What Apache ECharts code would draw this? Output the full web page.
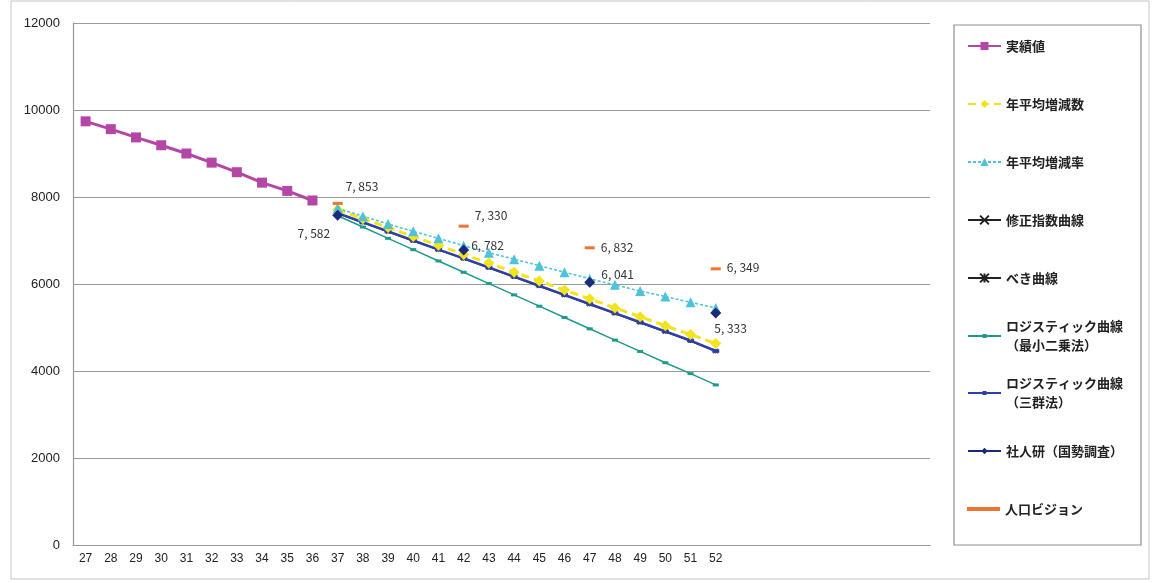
<!DOCTYPE html>
<html>
<head>
<meta charset="utf-8">
<script src="https://cdn.jsdelivr.net/npm/echarts@6/dist/echarts.min.js"></script>
<style>
  html, body { margin: 0; padding: 0; background: #fff; }
  #chart { width: 1153px; height: 582px; }
</style>
</head>
<body>
<div id="chart"></div>
<script>
// Fiscal-year slots on the horizontal axis (labels shown up to 52)
const years = ['27','28','29','30','31','32','33','34','35','36','37','38','39','40','41','42','43','44',
               '45','46','47','48','49','50','51','52','53','54','55','56','57','58','59','60'];
const lastLabelledYear = 52;
const yTicks = [0, 2000, 4000, 6000, 8000, 10000, 12000];

// Recorded population, years 27–36
const actual = [9740, 9560, 9370, 9190, 9000, 8790, 8570, 8330, 8140, 7920];

// Projections, years 37–52
const avgChangeCount = [7710, 7500, 7300, 7090, 6890, 6680, 6480, 6270, 6070, 5860, 5660, 5450, 5250, 5040, 4840, 4630];
const avgChangeRate  = [7740, 7560, 7380, 7210, 7050, 6880, 6720, 6570, 6420, 6270, 6120, 5980, 5840, 5710, 5580, 5450];
const modExponential = [7630, 7420, 7210, 7000, 6790, 6590, 6380, 6170, 5960, 5750, 5540, 5330, 5120, 4910, 4700, 4470];
const powerCurve     = [7620, 7410, 7200, 6990, 6790, 6580, 6370, 6160, 5950, 5740, 5530, 5320, 5110, 4900, 4690, 4450];
const logisticLSQ    = [7570, 7310, 7050, 6790, 6530, 6270, 6010, 5750, 5490, 5230, 4970, 4710, 4450, 4190, 3940, 3680];
const logisticThree  = [7630, 7420, 7210, 7000, 6790, 6590, 6380, 6170, 5960, 5750, 5540, 5330, 5120, 4910, 4700, 4460];
const ipss           = [7582, null, null, null, null, 6782, null, null, null, null, 6041, null, null, null, null, 5333];
const vision         = [7853, null, null, null, null, 7330, null, null, null, null, 6832, null, null, null, null, 6349];

const projStart = actual.length; // index of year 37

// Label placement for the annotated points (position, offset)
const ipssLabelPos   = [['left', [3, 18]], ['right', [-3, -5]], ['right', [1, -8]], ['right', [-12, 15]]];
const visionLabelPos = [['right', [-2, -17]], ['right', [1, -11]], ['right', [1, 0]], ['right', [1, -1]]];

const fmt = v => v.toLocaleString('en-US').replace(',', ', ');
const padActual = arr => arr.concat(new Array(years.length - arr.length).fill(null));
const padProj = arr => new Array(projStart).fill(null).concat(arr)
                         .concat(new Array(years.length - projStart - arr.length).fill(null));

function labelled(arr, placement) {
  let k = 0;
  return padProj(arr).map(v => {
    if (v === null) return null;
    const [pos, off] = placement[k++];
    return { value: v, label: { show: true, position: pos, offset: off, distance: 5 } };
  });
}

const labelFont = { fontFamily: 'Noto Sans CJK JP', fontSize: 12, color: '#333' };
const crossPath = 'path://M0,0L10,10M10,0L0,10';
const starPath = 'path://M0,0L10,10M10,0L0,10M5,0L5,10';

const series = [
  { name: '実績値', data: padActual(actual), color: '#B446A6', z: 3,
    lineStyle: { width: 3 }, symbol: 'rect', symbolSize: 10 },
  { name: '年平均増減数', data: padProj(avgChangeCount), color: '#F2E41C', z: 3,
    lineStyle: { width: 3, type: [8, 5] }, symbol: 'diamond', symbolSize: 11 },
  { name: '年平均増減率', data: padProj(avgChangeRate), color: '#4DC2DB', z: 3,
    lineStyle: { width: 1.5, type: [3, 2] }, symbol: 'triangle', symbolSize: 10 },
  { name: '修正指数曲線', data: padProj(modExponential), color: '#222', z: 1,
    lineStyle: { width: 1 }, symbol: crossPath, symbolSize: 4,
    itemStyle: { borderColor: '#222', borderWidth: 1 } },
  { name: 'べき曲線', data: padProj(powerCurve), color: '#222', z: 1,
    lineStyle: { width: 1.5 }, symbol: starPath, symbolSize: 4,
    itemStyle: { borderColor: '#222', borderWidth: 1 } },
  { name: 'ロジスティック曲線\n（最小二乗法）', data: padProj(logisticLSQ), color: '#1E9A8C', z: 3,
    lineStyle: { width: 1.5 }, symbol: 'rect', symbolSize: [6, 3] },
  { name: 'ロジスティック曲線\n（三群法）', data: padProj(logisticThree), color: '#4455C8', z: 2,
    lineStyle: { width: 2.5 }, symbol: 'rect', symbolSize: [7, 3.5], itemStyle: { color: '#2F3FA8' } },
  { name: '社人研（国勢調査）', data: labelled(ipss, ipssLabelPos), color: '#1C2A7A', z: 4,
    lineStyle: { width: 1.5 }, symbol: 'diamond', symbolSize: 11,
    label: Object.assign({ formatter: p => fmt(p.value) }, labelFont) },
  { name: '人口ビジョン', data: labelled(vision, visionLabelPos), color: '#EE7433', z: 4,
    lineStyle: { width: 3 }, symbol: 'rect', symbolSize: [10, 3],
    label: Object.assign({ formatter: p => fmt(p.value) }, labelFont) }
].map(s => Object.assign({ type: 'line', showAllSymbol: true, connectNulls: false }, s));

// One legend block per entry so the rows sit on an even pitch
const legendRows = [46, 104, 162, 220, 278, 336, 393, 451, 509];
const legendIconHeight = [10, 10, 10, 11, 11, 5, 5, 8, 4];
const legendText = { fontFamily: 'Noto Sans CJK JP', fontSize: 13, fontWeight: 'bold', color: '#222', lineHeight: 19 };
const legends = series.map((s, i) => {
  const twoLine = s.name.indexOf('\n') >= 0;
  const isVision = i === series.length - 1;
  return {
    data: [isVision ? { name: s.name, icon: 'rect' } : s.name],
    orient: 'vertical', left: 967,
    top: legendRows[i] - (twoLine ? 28.5 : 9.5),
    padding: 0, itemWidth: 33, itemHeight: legendIconHeight[i], selectedMode: false,
    textStyle: Object.assign({ padding: twoLine ? [19, 0, 0, 0] : 0 }, legendText)
  };
});

const chart = echarts.init(document.getElementById('chart'));
chart.setOption({
  animation: false,
  backgroundColor: '#fff',
  grid: { left: 73, right: 223, top: 23, bottom: 37 },
  legend: legends,
  graphic: [
    { type: 'rect', shape: { x: 11, y: 1, width: 1138, height: 578 },
      style: { fill: 'none', stroke: '#c4c4c4', lineWidth: 1 }, silent: true },
    { type: 'rect', shape: { x: 954, y: 25, width: 187, height: 520 },
      style: { fill: 'none', stroke: '#8a9099', lineWidth: 1.2 }, silent: true }
  ],
  xAxis: {
    type: 'category', data: years, boundaryGap: true,
    axisLine: { lineStyle: { color: '#999', width: 1.2 } },
    axisTick: { inside: true, length: 4, interval: 0, lineStyle: { color: '#999' } },
    axisLabel: { interval: 0, margin: 8, fontFamily: 'Liberation Sans', fontSize: 12, color: '#222',
                 formatter: v => (Number(v) <= lastLabelledYear ? v : '') }
  },
  yAxis: {
    type: 'value', min: yTicks[0], max: yTicks[yTicks.length - 1], interval: yTicks[1] - yTicks[0],
    axisLine: { show: true, lineStyle: { color: '#999', width: 1.2 } },
    axisTick: { show: false },
    splitLine: { lineStyle: { color: '#9a9a9a', width: 1.2 } },
    axisLabel: { margin: 13, fontFamily: 'Liberation Sans', fontSize: 13, color: '#222',
                 formatter: v => String(v) }
  },
  series: series
});
</script>
</body>
</html>
